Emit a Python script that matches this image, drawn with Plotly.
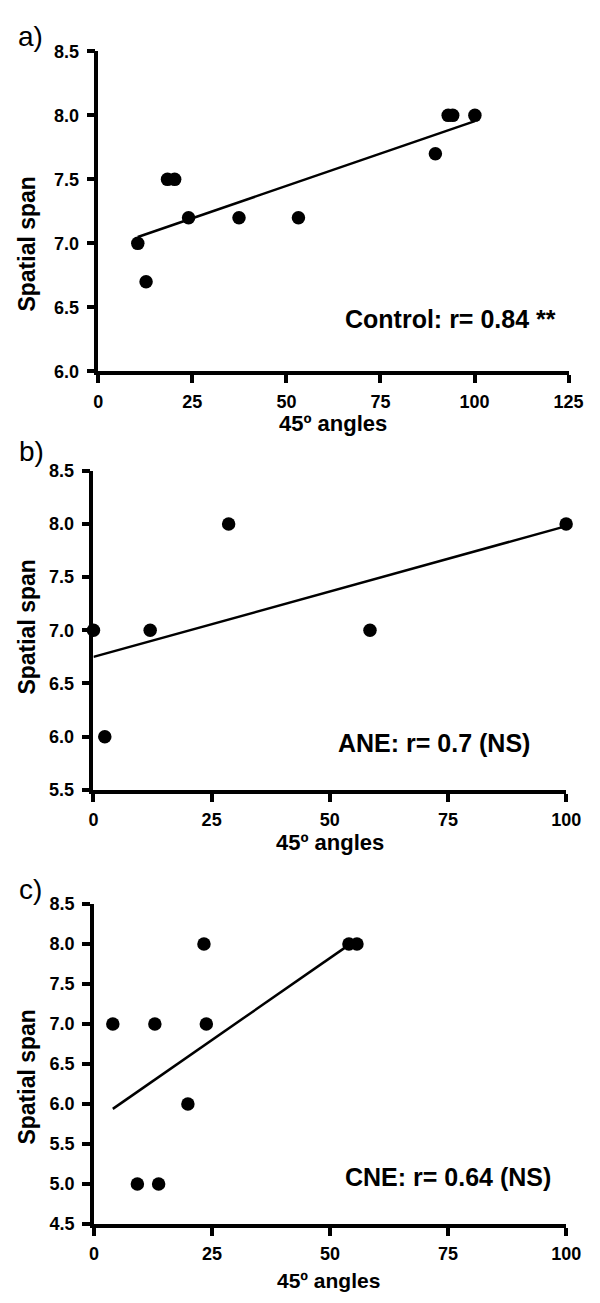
import plotly.graph_objects as go

# ---- data: spatial span vs. 45º angles, three groups ----
ctrl_angles = [10.5, 12.7, 18.4, 20.3, 24.0, 37.4, 53.2, 89.6, 93.0, 94.2, 100.1]
ctrl_span = [7.0, 6.7, 7.5, 7.5, 7.2, 7.2, 7.2, 7.7, 8.0, 8.0, 8.0]
ctrl_fit_angles = [10.5, 100.1]
ctrl_fit_span = [7.05, 7.955]

ane_angles = [0.0, 2.4, 12.0, 28.6, 58.5, 100.0]
ane_span = [7.0, 6.0, 7.0, 8.0, 7.0, 8.0]
ane_fit_angles = [0.0, 100.0]
ane_fit_span = [6.75, 7.98]

cne_angles = [4.0, 9.2, 12.9, 13.7, 19.9, 23.3, 23.8, 54.0, 55.7]
cne_span = [7.0, 5.0, 7.0, 5.0, 6.0, 8.0, 7.0, 8.0, 8.0]
cne_fit_angles = [4.0, 54.0]
cne_fit_span = [5.94, 7.99]

ctrl_xticks = [0, 25, 50, 75, 100, 125]
ctrl_yticks = [6.0, 6.5, 7.0, 7.5, 8.0, 8.5]
ane_xticks = [0, 25, 50, 75, 100]
ane_yticks = [5.5, 6.0, 6.5, 7.0, 7.5, 8.0, 8.5]
cne_xticks = [0, 25, 50, 75, 100]
cne_yticks = [4.5, 5.0, 5.5, 6.0, 6.5, 7.0, 7.5, 8.0, 8.5]

panel_letters = ["a)", "b)", "c)"]
group_labels = ["Control: r= 0.84 **", "ANE: r= 0.7 (NS)", "CNE: r= 0.64 (NS)"]
x_title = "45º angles"
y_title = "Spatial span"

W, H = 600, 1303
FONT = "Liberation Sans, Arial, sans-serif"


def fx(px):
    return px / W


def fy(py):
    return 1 - py / H


# pixel boxes of each plot area: (left, right, top, bottom)
boxes = [(96.5, 583, 42, 367), (91.5, 580.5, 468, 792), (92, 580.5, 908, 1233)]

panels = [
    (ctrl_angles, ctrl_span, ctrl_fit_angles, ctrl_fit_span, ctrl_xticks, ctrl_yticks),
    (ane_angles, ane_span, ane_fit_angles, ane_fit_span, ane_xticks, ane_yticks),
    (cne_angles, cne_span, cne_fit_angles, cne_fit_span, cne_xticks, cne_yticks),
]

fig = go.Figure()
layout = {}
annotations = []

# label placements in pixels
ytitle_y = [238, 627, 1084]
xtitle_pos = [(339.5, 420, 22), (336, 845, 22), (334.5, 1290, 21)]
letter_pos = [(26, 27), (27, 448), (26, 893)]
label_pos = [(460.5, 314), (443.5, 744), (458, 1185)]

for i, (xs, ys, fxs, fys, xt, yt) in enumerate(panels):
    n = "" if i == 0 else str(i + 1)
    xa, ya = "x" + n, "y" + n
    left, right, top, bottom = boxes[i]

    # fitted regression line
    fig.add_trace(go.Scatter(
        x=fxs, y=fys, xaxis=xa, yaxis=ya, mode="lines",
        line=dict(color="black", width=2.5), hoverinfo="skip", showlegend=False,
        cliponaxis=False,
    ))
    # individual subjects
    fig.add_trace(go.Scatter(
        x=xs, y=ys, xaxis=xa, yaxis=ya, mode="markers",
        marker=dict(color="black", size=13.5, line=dict(width=0)),
        showlegend=False, cliponaxis=False,
    ))

    common = dict(
        showline=True, linewidth=3.5, linecolor="black",
        ticks="outside", ticklen=8, tickwidth=3.5, tickcolor="black",
        showgrid=False, zeroline=False, fixedrange=True,
        tickfont=dict(family=FONT, size=18, color="black", weight="bold"),
        tickmode="array",
    )
    layout["xaxis" + n] = dict(
        common, domain=[fx(left), fx(right)], range=[xt[0], xt[-1]],
        tickvals=xt, ticktext=[str(v) for v in xt], anchor=ya,
        ticklabelstandoff=3,
    )
    layout["yaxis" + n] = dict(
        common, domain=[fy(bottom), fy(top)], range=[yt[0], yt[-1]],
        tickvals=yt, ticktext=[f"{v:.1f}" for v in yt], anchor=xa,
        ticklabelstandoff=4,
    )

    annotations.append(dict(
        text=y_title, xref="paper", yref="paper", x=fx(23), y=fy(ytitle_y[i]),
        xanchor="center", yanchor="middle", textangle=-90, showarrow=False,
        font=dict(family=FONT, size=23, color="black", weight="bold"),
    ))
    tx, ty, ts = xtitle_pos[i]
    annotations.append(dict(
        text=x_title, xref="paper", yref="paper", x=fx(tx), y=fy(ty),
        xanchor="center", yanchor="middle", showarrow=False,
        font=dict(family=FONT, size=ts, color="black", weight="bold"),
    ))
    lx, ly = letter_pos[i]
    annotations.append(dict(
        text=panel_letters[i], xref="paper", yref="paper", x=fx(lx), y=fy(ly),
        xanchor="center", yanchor="middle", showarrow=False,
        font=dict(family=FONT, size=28, color="black"),
    ))
    gx, gy = label_pos[i]
    annotations.append(dict(
        text=group_labels[i], xref="paper", yref="paper", x=fx(gx), y=fy(gy),
        xanchor="center", yanchor="middle", showarrow=False,
        font=dict(family=FONT, size=25, color="black", weight="bold"),
    ))

fig.update_layout(
    width=W, height=H, margin=dict(l=0, r=0, t=0, b=0),
    paper_bgcolor="white", plot_bgcolor="white",
    annotations=annotations, **layout,
)

fig.write_html("out.html", include_plotlyjs=True, config={"displayModeBar": False})
